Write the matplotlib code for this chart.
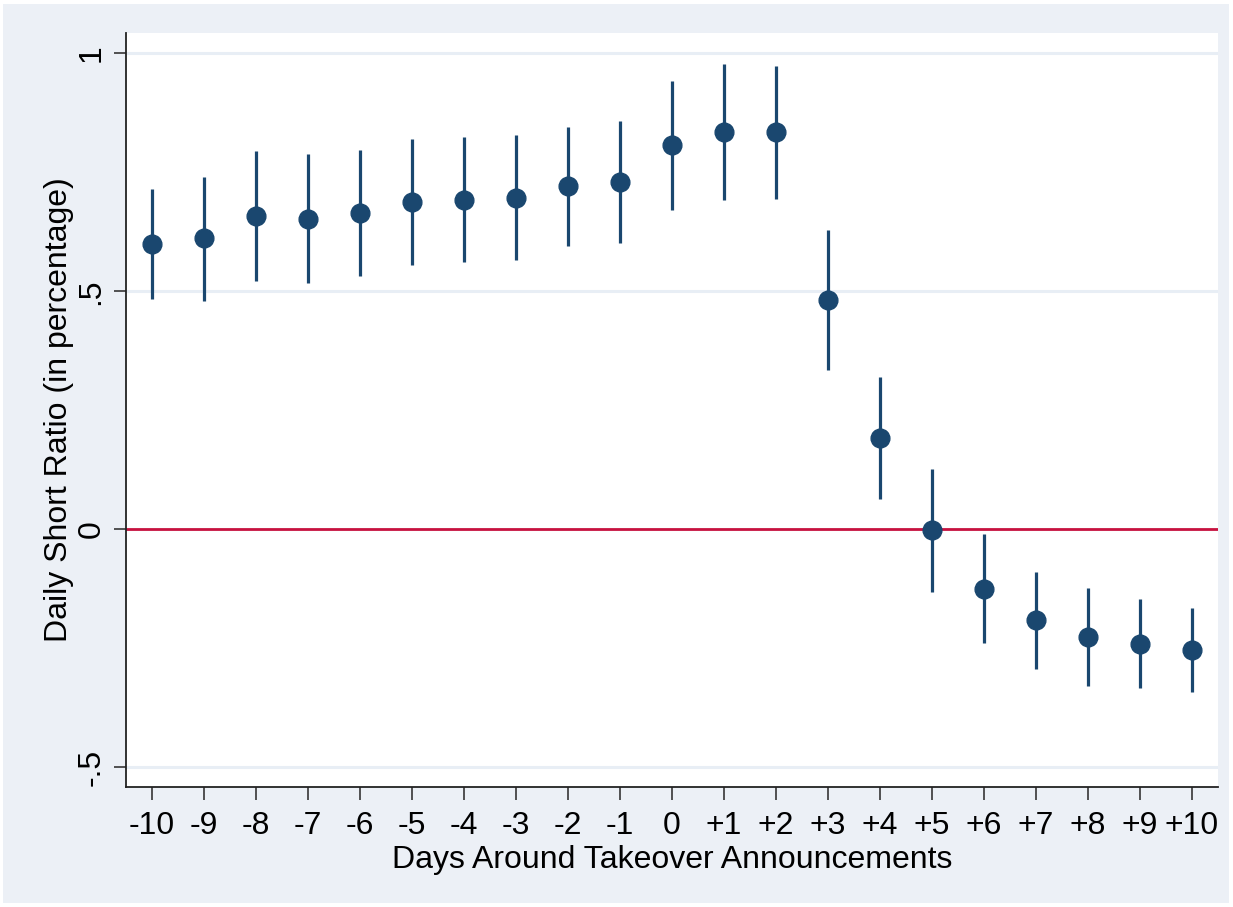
import matplotlib
matplotlib.use("Agg")
import matplotlib.pyplot as plt
from matplotlib.patches import Rectangle

days = list(range(-10, 11))
tick_labels = ["-10", "-9", "-8", "-7", "-6", "-5", "-4", "-3", "-2", "-1", "0",
               "+1", "+2", "+3", "+4", "+5", "+6", "+7", "+8", "+9", "+10"]
estimate = [0.599, 0.612, 0.658, 0.653, 0.665, 0.688, 0.693, 0.697, 0.721, 0.730, 0.807,
            0.835, 0.834, 0.483, 0.193, -0.001, -0.124, -0.191, -0.226, -0.240, -0.254]
ci_upper = [0.715, 0.741, 0.795, 0.788, 0.797, 0.821, 0.825, 0.828, 0.846, 0.858, 0.942,
            0.977, 0.973, 0.630, 0.321, 0.127, -0.010, -0.090, -0.123, -0.146, -0.166]
ci_lower = [0.484, 0.481, 0.522, 0.517, 0.533, 0.555, 0.562, 0.567, 0.595, 0.601, 0.671,
            0.693, 0.694, 0.336, 0.064, -0.131, -0.239, -0.293, -0.329, -0.333, -0.342]
y_ticks = [-0.5, 0, 0.5, 1]
y_tick_labels = ["-.5", "0", ".5", "1"]

plt.rcParams['font.family'] = ['Liberation Sans', 'DejaVu Sans']

W, H = 1233, 907
fig = plt.figure(figsize=(W / 100, H / 100), dpi=100)
fig.patch.set_facecolor("white")
bg = Rectangle((3 / W, 4 / H), (1229 - 3) / W, (903 - 4) / H,
               transform=fig.transFigure, facecolor="#ecf0f6",
               edgecolor="none", zorder=-10)
fig.add_artist(bg)

ax = fig.add_axes([126 / W, (H - 787) / H, (1218 - 126) / W, (787 - 33) / H])
ax.set_zorder(1)
ax.set_facecolor("white")

navy = "#1a476f"
for yv in y_ticks:
    ax.axhline(yv, color="#e8eef5", lw=2.2, zorder=1)
ax.axhline(0, color="#c8113f", lw=2, zorder=2)

ax.vlines(days, ci_lower, ci_upper, color=navy, lw=2.3, zorder=3)
ax.plot(days, estimate, "o", color=navy, ms=13.5, zorder=4)

ax.set_xlim(-10.5, 10.5)
ax.set_ylim(-0.541, 1.043)
ax.set_xticks(days)
ax.set_xticklabels(tick_labels)
ax.set_yticks(y_ticks)
ax.set_yticklabels(y_tick_labels, rotation=90, va="center")

for s in ["top", "right"]:
    ax.spines[s].set_visible(False)
for s in ["left", "bottom"]:
    ax.spines[s].set_color("#222222")
    ax.spines[s].set_linewidth(1.3)

ax.tick_params(axis="both", length=9, width=1.3, color="#444444",
               labelsize=23, labelcolor="black", pad=5)
ax.tick_params(axis="x", pad=8)
ax.set_xlabel("Days Around Takeover Announcements", fontsize=23, labelpad=3)
ax.set_ylabel("Daily Short Ratio (in percentage)", fontsize=23, labelpad=2)

fig.savefig("out.png", dpi=100)
